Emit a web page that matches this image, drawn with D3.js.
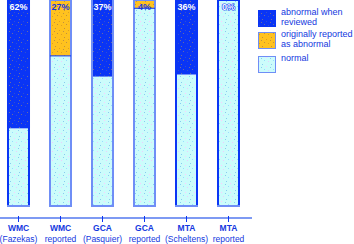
<!DOCTYPE html>
<html><head><meta charset="utf-8">
<script src="https://cdn.jsdelivr.net/npm/d3@7"></script>
<style>body{margin:0;background:#fff}svg{display:block}</style>
</head><body><svg id="c" width="354" height="244"></svg>
<script>
const categories = [["WMC","(Fazekas)"],["WMC","reported"],["GCA","(Pasquier)"],["GCA","reported"],["MTA","(Scheltens)"],["MTA","reported"]];
const abnormalReviewed = [62, 0, 37, 0, 36, 0];
const originallyReported = [0, 27, 0, 4, 0, 0];
const normal = abnormalReviewed.map((v,i)=>100 - v - originallyReported[i]);
const percentLabels = ["62%","27%","37%","4%","36%","0%"];
const legendItems = [["abnormal when","reviewed"],["originally reported","as abnormal"],["normal"]];

const BLUE = "#0a35f5", LIGHT = "#6f8ef6", ORANGE = "#ffc21f", CYAN = "#ccfcfb", TEXT = "#1438e0";
const darkSides = [true, false, false, false, true, true];
const svg = d3.select("#c");
const defs = svg.append("defs");
function pattern(id, bg, dots){
  const p = defs.append("pattern").attr("id", id).attr("width", 9).attr("height", 9).attr("patternUnits","userSpaceOnUse");
  p.append("rect").attr("width",9).attr("height",9).attr("fill",bg);
  [[1,1],[5,3],[3,6],[7,7],[0,4]].forEach((d,i)=>p.append("rect").attr("x",d[0]).attr("y",d[1]).attr("width",1).attr("height",1).attr("fill",dots[i%dots.length]));
}
pattern("pBlue", BLUE, ["#6a6aa0","#3050d0"]);
pattern("pOrange", ORANGE, ["#c09040","#e0a020"]);
pattern("pCyan", CYAN, ["#88ccee","#ffccff","#99ddff","#eeccff"]);

const x = d3.scaleBand().domain(d3.range(categories.length)).range([-2.5, 249.5]).paddingInner(0.452).paddingOuter(0.226);
const y = d3.scaleLinear().domain([0,100]).range([207,0]);

const g = svg.append("g");
categories.forEach((c,i)=>{
  const segs = [
    {v0:0, v1:normal[i], fill:"url(#pCyan)"},
    {v0:normal[i], v1:normal[i]+originallyReported[i], fill:"url(#pOrange)"},
    {v0:normal[i]+originallyReported[i], v1:100, fill:"url(#pBlue)"}
  ].filter(s=>s.v1>s.v0);
  segs.forEach(s=>{
    g.append("rect").attr("x", x(i)).attr("width", x.bandwidth())
      .attr("y", y(s.v1)).attr("height", y(s.v0)-y(s.v1)).attr("fill", s.fill);
  });
  const x0 = x(i)+1, x1 = x(i)+x.bandwidth()-1, yt = y(100)+0.5, yb = y(0)-1;
  const sideCol = darkSides[i] ? BLUE : LIGHT;
  g.append("line").attr("x1",x0).attr("x2",x0).attr("y1",y(100)).attr("y2",y(0)).attr("stroke",sideCol).attr("stroke-width",2);
  g.append("line").attr("x1",x1).attr("x2",x1).attr("y1",y(100)).attr("y2",y(0)).attr("stroke",sideCol).attr("stroke-width",2);
  g.append("line").attr("x1",x(i)).attr("x2",x(i)+x.bandwidth()).attr("y1",yb).attr("y2",yb).attr("stroke",LIGHT).attr("stroke-width",2);
  if (abnormalReviewed[i] === 0) {
    g.append("line").attr("x1",x(i)).attr("x2",x(i)+x.bandwidth()).attr("y1",yt).attr("y2",yt).attr("stroke",sideCol).attr("stroke-width",1);
  }
  if (originallyReported[i] > 0) {
    g.append("line").attr("x1", x(i)+1).attr("x2", x(i)+x.bandwidth()-1)
      .attr("y1", y(normal[i])).attr("y2", y(normal[i])).attr("stroke", BLUE).attr("stroke-width",1);
  }
  const onOrange = originallyReported[i] > 0;
  const t = g.append("text").attr("x", x(i)+x.bandwidth()/2).attr("y", 10)
    .attr("text-anchor","middle").attr("font-family","Liberation Sans, Arial, sans-serif")
    .attr("font-weight","bold").attr("font-size", 9)
    .attr("fill", onOrange ? TEXT : "#ffffff").text(percentLabels[i]);
  if (i === 5) t.attr("stroke", BLUE).attr("stroke-width", 1.2).attr("paint-order","stroke");
});

// axis
svg.append("line").attr("x1",0).attr("x2",252).attr("y1",218).attr("y2",218).attr("stroke","#7e9af3").attr("stroke-width",2);
const xa = d3.axisBottom(x).tickSize(0).tickFormat("");
const ax = svg.append("g").attr("transform","translate(0,218)").call(xa);
ax.select(".domain").remove();
ax.selectAll(".tick").append("line").attr("y1",-2).attr("y2",4).attr("stroke",BLUE).attr("stroke-width",1);
ax.selectAll(".tick").each(function(d){
  const t = d3.select(this).append("text").attr("fill",TEXT).attr("font-family","Liberation Sans, Arial, sans-serif")
    .attr("font-size",8.5).attr("text-anchor","middle");
  t.append("tspan").attr("x",0).attr("y",13).attr("font-weight","bold").text(categories[d][0]);
  t.append("tspan").attr("x",0).attr("y",24).text(categories[d][1]);
});

// legend
const fills = ["url(#pBlue)","url(#pOrange)","url(#pCyan)"];
const ly = [10, 32, 56];
legendItems.forEach((lines,i)=>{
  svg.append("rect").attr("x",258.5).attr("y",ly[i]+0.5).attr("width",17).attr("height",16)
    .attr("fill",fills[i]).attr("stroke", i===0?BLUE:LIGHT).attr("stroke-width",1);
  const t = svg.append("text").attr("fill",TEXT).attr("font-family","Liberation Sans, Arial, sans-serif").attr("font-size",9);
  lines.forEach((s,j)=>t.append("tspan").attr("x",281).attr("y",ly[i]+5+j*10).text(s));
});
</script></body></html>
